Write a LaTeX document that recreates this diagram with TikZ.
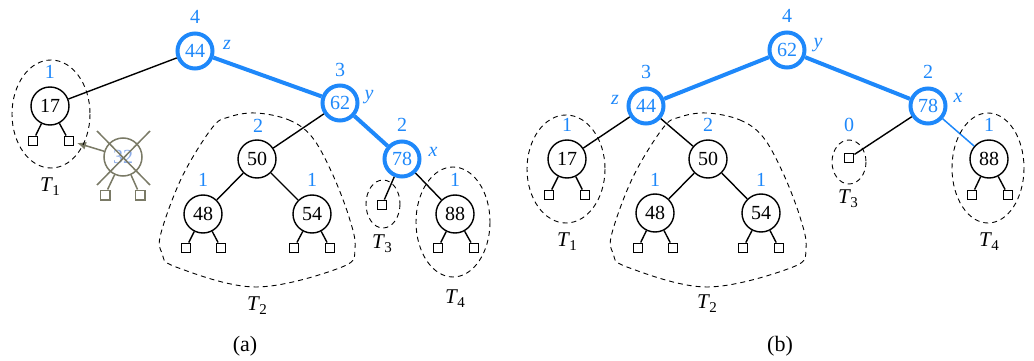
\documentclass[tikz,border=0pt]{standalone}
\usepackage{fontspec}
\setmainfont{Liberation Serif}
\usetikzlibrary{arrows.meta,calc}
\definecolor{myblue}{RGB}{30,136,250}
\definecolor{mygray}{RGB}{122,122,102}
\definecolor{faintblue}{RGB}{140,172,232}
\tikzset{
  every node/.style={font=\fontsize{20}{23}\selectfont},
  inode/.style={circle,draw=black,line width=1.4pt,minimum size=38pt,inner sep=0pt},
  bnode/.style={circle,draw=myblue,line width=4pt,minimum size=35pt,inner sep=0pt,text=myblue},
  gnode/.style={circle,draw=mygray,line width=1.5pt,minimum size=38pt,inner sep=0pt,text=faintblue},
  leaf/.style={rectangle,draw=black,line width=1.4pt,minimum size=9.5pt,inner sep=0pt},
  gleaf/.style={rectangle,draw=mygray,line width=1.5pt,minimum size=9.5pt,inner sep=0pt},
  hl/.style={text=myblue,inner sep=0pt},
  vl/.style={text=myblue,inner sep=0pt,font=\fontsize{20}{23}\selectfont\itshape},
  tl/.style={inner sep=0pt,font=\fontsize{21}{24}\selectfont},
  capl/.style={inner sep=0pt,font=\fontsize{22}{25}\selectfont},
  edge/.style={line width=1.4pt},
  bedge/.style={line width=4pt,draw=myblue},
  tbedge/.style={line width=1.5pt,draw=myblue},
  gedge/.style={line width=1.5pt,draw=mygray},
  sub/.style={line width=0.9pt,dash pattern=on 5pt off 4pt},
}
\newcommand{\Tlab}[1]{\textit{T}\kern-0.5pt\raisebox{-4pt}{\fontsize{15}{15}\selectfont #1}}
\begin{document}
\begin{tikzpicture}[x=1pt,y=-1pt]
\useasboundingbox (0,0) rectangle (1034,361);

% ================= (a) =================
\node[bnode] (a44) at (195,51) {44};
\node[inode] (a17) at (50,106) {17};
\node[bnode] (a62) at (340,103) {62};
\node[inode] (a50) at (257,159) {50};
\node[inode] (a48) at (203,214) {48};
\node[inode] (a54) at (312,214) {54};
\node[bnode] (a78) at (402,159) {78};
\node[inode] (a88) at (455,214) {88};
\node[leaf] (a3l) at (382,205) {};
\node[leaf] (a17l) at (33,141) {};
\node[leaf] (a17r) at (69,141) {};
\node[leaf] (a48l) at (186,248) {};
\node[leaf] (a48r) at (221,248) {};
\node[leaf] (a54l) at (294,248) {};
\node[leaf] (a54r) at (330,248) {};
\node[leaf] (a88l) at (438,248) {};
\node[leaf] (a88r) at (474,248) {};

\node[hl] (ha44) at (195,17) {4};
\node[hl] (ha17) at (50,72) {1};
\node[hl] (ha62) at (340,70) {3};
\node[hl] (ha50) at (258,126) {2};
\node[hl] (ha48) at (203,180) {1};
\node[hl] (ha54) at (312,180) {1};
\node[hl] (ha78) at (402,125) {2};
\node[hl] (ha88) at (455,180) {1};
\node[vl] (za) at (227,45) {z};
\node[vl] (ya) at (369,97) {y};
\node[vl] (xa) at (433,152) {x};

\draw[edge] (a44) -- (a17);
\draw[bedge] (a44) -- (a62);
\draw[bedge] (a62) -- (a78);
\draw[edge] (a62) -- (a50);
\draw[edge] (a50) -- (a48);
\draw[edge] (a50) -- (a54);
\draw[edge] (a78) -- (a3l);
\draw[edge] (a78) -- (a88);
\draw[edge] (a17) -- (a17l); \draw[edge] (a17) -- (a17r);
\draw[edge] (a48) -- (a48l); \draw[edge] (a48) -- (a48r);
\draw[edge] (a54) -- (a54l); \draw[edge] (a54) -- (a54r);
\draw[edge] (a88) -- (a88l); \draw[edge] (a88) -- (a88r);

% deleted node 32
\node[gnode] (a32) at (123,157) {32};
\node[gleaf] (a32l) at (105,195) {};
\node[gleaf] (a32r) at (140,195) {};
\draw[gedge] (a32) -- (a32l);
\draw[gedge] (a32) -- (a32r);
\coordinate (c1) at (97,131);
\coordinate (c2) at (150,185);
\coordinate (c3) at (150,131);
\coordinate (c4) at (97,185);
\draw[gedge] (c1) -- (c2);
\draw[gedge] (c3) -- (c4);
\coordinate (arrend) at (77,143);
\draw[gedge,-{Latex[length=9pt,width=8pt]}] (a32) -- (arrend);

% subtrees (a)
\draw[sub] (51,114) ellipse [x radius=39,y radius=54];
\draw[sub] (383,204) ellipse [x radius=17,y radius=24];
\draw[sub] (453,222) ellipse [x radius=37,y radius=55];
\draw[sub] plot[smooth cycle,tension=0.6] coordinates {
 (256,113) (289,120) (312,137) (332,173) (349,217) (355,248) (342,267) (256,287)
 (176,267) (162,253) (161,233) (182,177) (212,128) (229,117)};

\node[tl] (T1a) at (50,187) {\Tlab{1}};
\node[tl] (T2a) at (257,306) {\Tlab{2}};
\node[tl] (T3a) at (382,244) {\Tlab{3}};
\node[tl] (T4a) at (455,299) {\Tlab{4}};
\node[capl] (capa) at (245,346) {(a)};

% ================= (b) =================
\node[bnode] (b62) at (787,50) {62};
\node[bnode] (b44) at (646,106) {44};
\node[bnode] (b78) at (928,106) {78};
\node[inode] (b17) at (567,159) {17};
\node[inode] (b50) at (708,159) {50};
\node[inode] (b48) at (655,213) {48};
\node[inode] (b54) at (761,213) {54};
\node[inode] (b88) at (989,159) {88};
\node[leaf] (b3l) at (849,158) {};
\node[leaf] (b17l) at (549,195) {};
\node[leaf] (b17r) at (585,195) {};
\node[leaf] (b48l) at (638,248) {};
\node[leaf] (b48r) at (673,248) {};
\node[leaf] (b54l) at (743,248) {};
\node[leaf] (b54r) at (779,248) {};
\node[leaf] (b88l) at (972,195) {};
\node[leaf] (b88r) at (1008,195) {};

\node[hl] (hb62) at (787,16) {4};
\node[hl] (hb44) at (646,72) {3};
\node[hl] (hb78) at (928,72) {2};
\node[hl] (hb17) at (567,125) {1};
\node[hl] (hb50) at (708,125) {2};
\node[hl] (hb48) at (655,180) {1};
\node[hl] (hb54) at (761,180) {1};
\node[hl] (hb3) at (849,125) {0};
\node[hl] (hb88) at (989,125) {1};
\node[vl] (yb) at (818,45) {y};
\node[vl] (zb) at (615,100) {z};
\node[vl] (xb) at (958,98) {x};

\draw[bedge] (b62) -- (b44);
\draw[bedge] (b62) -- (b78);
\draw[edge] (b44) -- (b17);
\draw[edge] (b44) -- (b50);
\draw[edge] (b50) -- (b48);
\draw[edge] (b50) -- (b54);
\draw[edge] (b78) -- (b3l);
\draw[tbedge] (b78) -- (b88);
\draw[edge] (b17) -- (b17l); \draw[edge] (b17) -- (b17r);
\draw[edge] (b48) -- (b48l); \draw[edge] (b48) -- (b48r);
\draw[edge] (b54) -- (b54l); \draw[edge] (b54) -- (b54r);
\draw[edge] (b88) -- (b88l); \draw[edge] (b88) -- (b88r);

% subtrees (b)
\draw[sub] (566,169) ellipse [x radius=39,y radius=54];
\draw[sub] (849,162) ellipse [x radius=17,y radius=22];
\draw[sub] (988,168) ellipse [x radius=36,y radius=55];
\draw[sub] plot[smooth cycle,tension=0.6] coordinates {
 (707,113) (740,120) (763,137) (783,173) (800,217) (806,248) (793,267) (707,287)
 (627,267) (613,253) (612,233) (633,177) (663,128) (680,117)};

\node[tl] (T1b) at (567,242) {\Tlab{1}};
\node[tl] (T2b) at (707,304) {\Tlab{2}};
\node[tl] (T3b) at (848,199) {\Tlab{3}};
\node[tl] (T4b) at (989,242) {\Tlab{4}};
\node[capl] (capb) at (780,346) {(b)};
\end{tikzpicture}
\end{document}
